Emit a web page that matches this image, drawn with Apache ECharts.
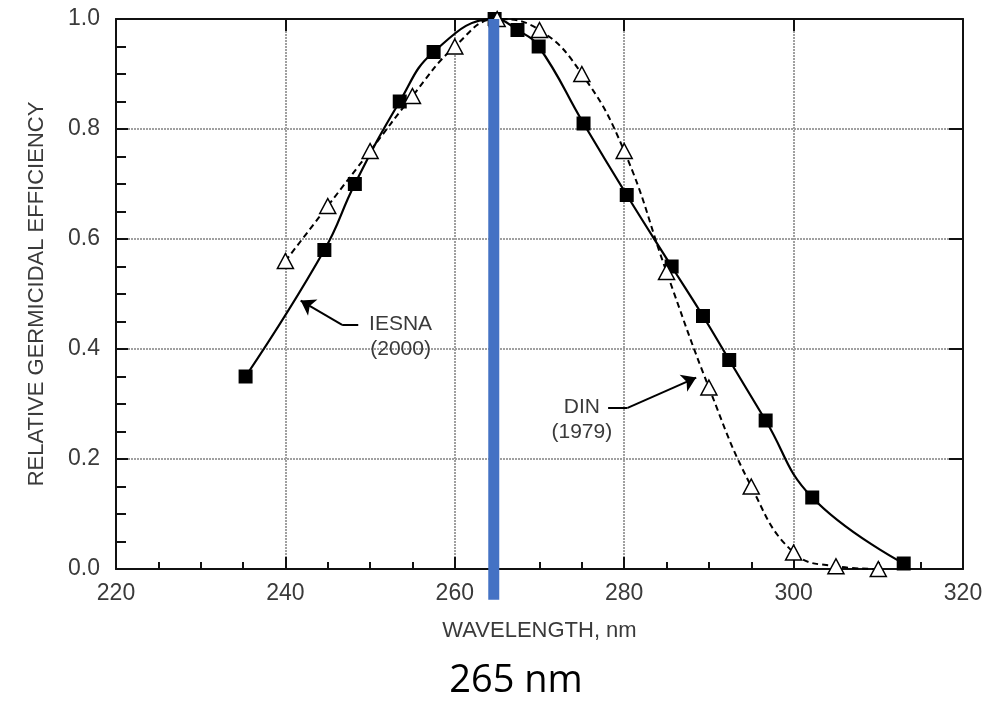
<!DOCTYPE html>
<html lang="en">
<head>
    <meta charset="utf-8">
    <title>Relative germicidal efficiency</title>
    <style>
        html, body { margin: 0; padding: 0; background: #fff; }
    </style>
</head>
<body>
    <div id="main" style="width:1003px;height:701px;"></div>
    <script src="https://cdn.jsdelivr.net/npm/echarts@6/dist/echarts.min.js"></script>
    <script type="text/javascript">
        // data
        var iesnaX = [235.3, 244.6, 248.2, 253.5, 257.5, 264.7, 267.4, 269.9, 275.2, 280.3, 285.6, 289.3, 292.4, 296.7, 302.2, 313.0];
        var iesnaY = [0.35, 0.58, 0.70, 0.85, 0.94, 1.00, 0.98, 0.95, 0.81, 0.68, 0.55, 0.46, 0.38, 0.27, 0.13, 0.01];
        var dinX = [240, 245, 250, 255, 260, 265, 270, 275, 280, 285, 290, 295, 300, 305, 310];
        var dinY = [0.56, 0.66, 0.76, 0.86, 0.95, 1.00, 0.98, 0.90, 0.76, 0.54, 0.33, 0.15, 0.03, 0.005, 0.0];
        var xTicks = [220, 240, 260, 280, 300, 320];
        var yTicks = [0.0, 0.2, 0.4, 0.6, 0.8, 1.0];

        // blue marker at 265 nm (x, top, bottom in data units)
        var peakLine = [[264.6, 1.0, -0.056]];

        // annotation anchors (data units)
        var iesnaLabelAt = [253.6, 0.422];
        var iesnaArrow = [[248.6, 0.444], [246.7, 0.444], [241.8, 0.488]];
        var dinLabelAt = [275.0, 0.271];
        var dinArrow = [[278.1, 0.293], [280.4, 0.293], [288.5, 0.348]];

        function zip(xs, ys) {
            return xs.map(function (x, i) { return [x, ys[i]]; });
        }

        var txt = '#3a3a3a';
        var font = 'Liberation Sans';

        function arrowLines(pts) {
            return [
                [{ coord: pts[0], symbol: 'none' }, { coord: pts[1], symbol: 'none' }],
                [{ coord: pts[1], symbol: 'none' }, { coord: pts[2], symbol: 'arrow', symbolSize: 14 }]
            ];
        }

        function labelPoint(at, text) {
            return {
                symbol: 'circle',
                symbolSize: 1,
                silent: true,
                itemStyle: { color: 'rgba(0,0,0,0)' },
                label: {
                    show: true,
                    position: 'inside',
                    color: txt,
                    fontFamily: font,
                    fontSize: 21,
                    lineHeight: 25,
                    align: 'center',
                    verticalAlign: 'middle',
                    formatter: text
                },
                data: [{ coord: at, value: 0 }]
            };
        }

        var myChart = echarts.init(document.getElementById('main'));

        var axisLineStyle = { color: '#111', width: 2 };
        var gridStyle = { color: '#a0a0a0', width: 2, type: [2, 1] };

        var option = {
            backgroundColor: '#fff',
            animation: false,
            grid: {
                left: 116,
                right: 40,
                top: 19,
                bottom: 132,
                outerBoundsMode: 'none'
            },
            xAxis: [{
                type: 'value',
                min: xTicks[0],
                max: xTicks[xTicks.length - 1],
                interval: 20,
                name: 'WAVELENGTH, nm',
                nameLocation: 'middle',
                nameGap: 51,
                nameTextStyle: { color: txt, fontFamily: font, fontSize: 22 },
                axisLine: { show: true, onZero: false, lineStyle: axisLineStyle },
                axisTick: { show: true, inside: true, length: 12, lineStyle: axisLineStyle },
                minorTick: { show: true, splitNumber: 4, length: 7, lineStyle: { color: '#111', width: 2 } },
                axisLabel: { color: txt, fontFamily: font, fontSize: 23, margin: 13 },
                splitLine: { show: true, lineStyle: gridStyle }
            }, {
                type: 'value',
                position: 'top',
                min: xTicks[0],
                max: xTicks[xTicks.length - 1],
                interval: 20,
                axisLine: { show: true, onZero: false, lineStyle: axisLineStyle },
                axisTick: { show: true, inside: true, length: 12, lineStyle: axisLineStyle },
                axisLabel: { show: false },
                splitLine: { show: false }
            }],
            yAxis: [{
                type: 'value',
                min: yTicks[0],
                max: yTicks[yTicks.length - 1],
                interval: 0.2,
                name: 'RELATIVE GERMICIDAL EFFICIENCY',
                nameLocation: 'middle',
                nameGap: 68,
                nameTextStyle: { color: txt, fontFamily: font, fontSize: 22 },
                axisLine: { show: true, onZero: false, lineStyle: axisLineStyle },
                axisTick: { show: true, inside: true, length: 12, lineStyle: axisLineStyle },
                minorTick: { show: true, splitNumber: 4, length: 10, lineStyle: { color: '#111', width: 2 } },
                axisLabel: {
                    color: txt, fontFamily: font, fontSize: 23, margin: 16,
                    formatter: function (v) { return v.toFixed(1); }
                },
                splitLine: { show: true, lineStyle: gridStyle }
            }, {
                type: 'value',
                position: 'right',
                min: yTicks[0],
                max: yTicks[yTicks.length - 1],
                interval: 0.2,
                axisLine: { show: true, onZero: false, lineStyle: axisLineStyle },
                axisTick: { show: true, inside: true, length: 14, lineStyle: axisLineStyle },
                axisLabel: { show: false },
                splitLine: { show: false }
            }],
            series: [{
                name: 'IESNA (2000)',
                type: 'line',
                data: zip(iesnaX, iesnaY),
                smooth: 0.45,
                symbol: 'rect',
                symbolSize: 14,
                z: 3,
                lineStyle: { color: '#000', width: 2.2 },
                itemStyle: { color: '#000', borderColor: '#000', borderWidth: 0 },
                markLine: {
                    silent: true,
                    symbol: ['none', 'none'],
                    label: { show: false },
                    lineStyle: { color: '#000', width: 2, type: 'solid' },
                    emphasis: { disabled: true },
                    data: arrowLines(iesnaArrow)
                },
                markPoint: labelPoint(iesnaLabelAt, 'IESNA\n(2000)')
            }, {
                name: 'DIN (1979)',
                type: 'line',
                data: zip(dinX, dinY),
                smooth: 0.45,
                symbol: 'triangle',
                symbolSize: [16, 15],
                z: 4,
                lineStyle: { color: '#000', width: 2, type: [6, 4] },
                itemStyle: { color: '#fff', borderColor: '#000', borderWidth: 1.5 },
                markLine: {
                    silent: true,
                    symbol: ['none', 'none'],
                    label: { show: false },
                    lineStyle: { color: '#000', width: 2, type: 'solid' },
                    emphasis: { disabled: true },
                    data: arrowLines(dinArrow)
                },
                markPoint: labelPoint(dinLabelAt, 'DIN\n(1979)')
            }, {
                name: '265 nm',
                type: 'custom',
                z: 10,
                silent: true,
                clip: false,
                data: peakLine,
                renderItem: function (params, api) {
                    var p1 = api.coord([api.value(0), api.value(1)]);
                    var p2 = api.coord([api.value(0), api.value(2)]);
                    return {
                        type: 'line',
                        shape: { x1: p1[0], y1: p1[1], x2: p2[0], y2: p2[1] },
                        style: { stroke: '#4472C4', lineWidth: 11 }
                    };
                }
            }],
            graphic: [{
                type: 'text',
                x: 516,
                y: 681,
                style: {
                    text: '265 nm',
                    fill: '#000',
                    font: '38px "Open Sans"',
                    textAlign: 'center',
                    textVerticalAlign: 'middle'
                }
            }]
        };
        myChart.setOption(option);
    </script>
</body>
</html>
